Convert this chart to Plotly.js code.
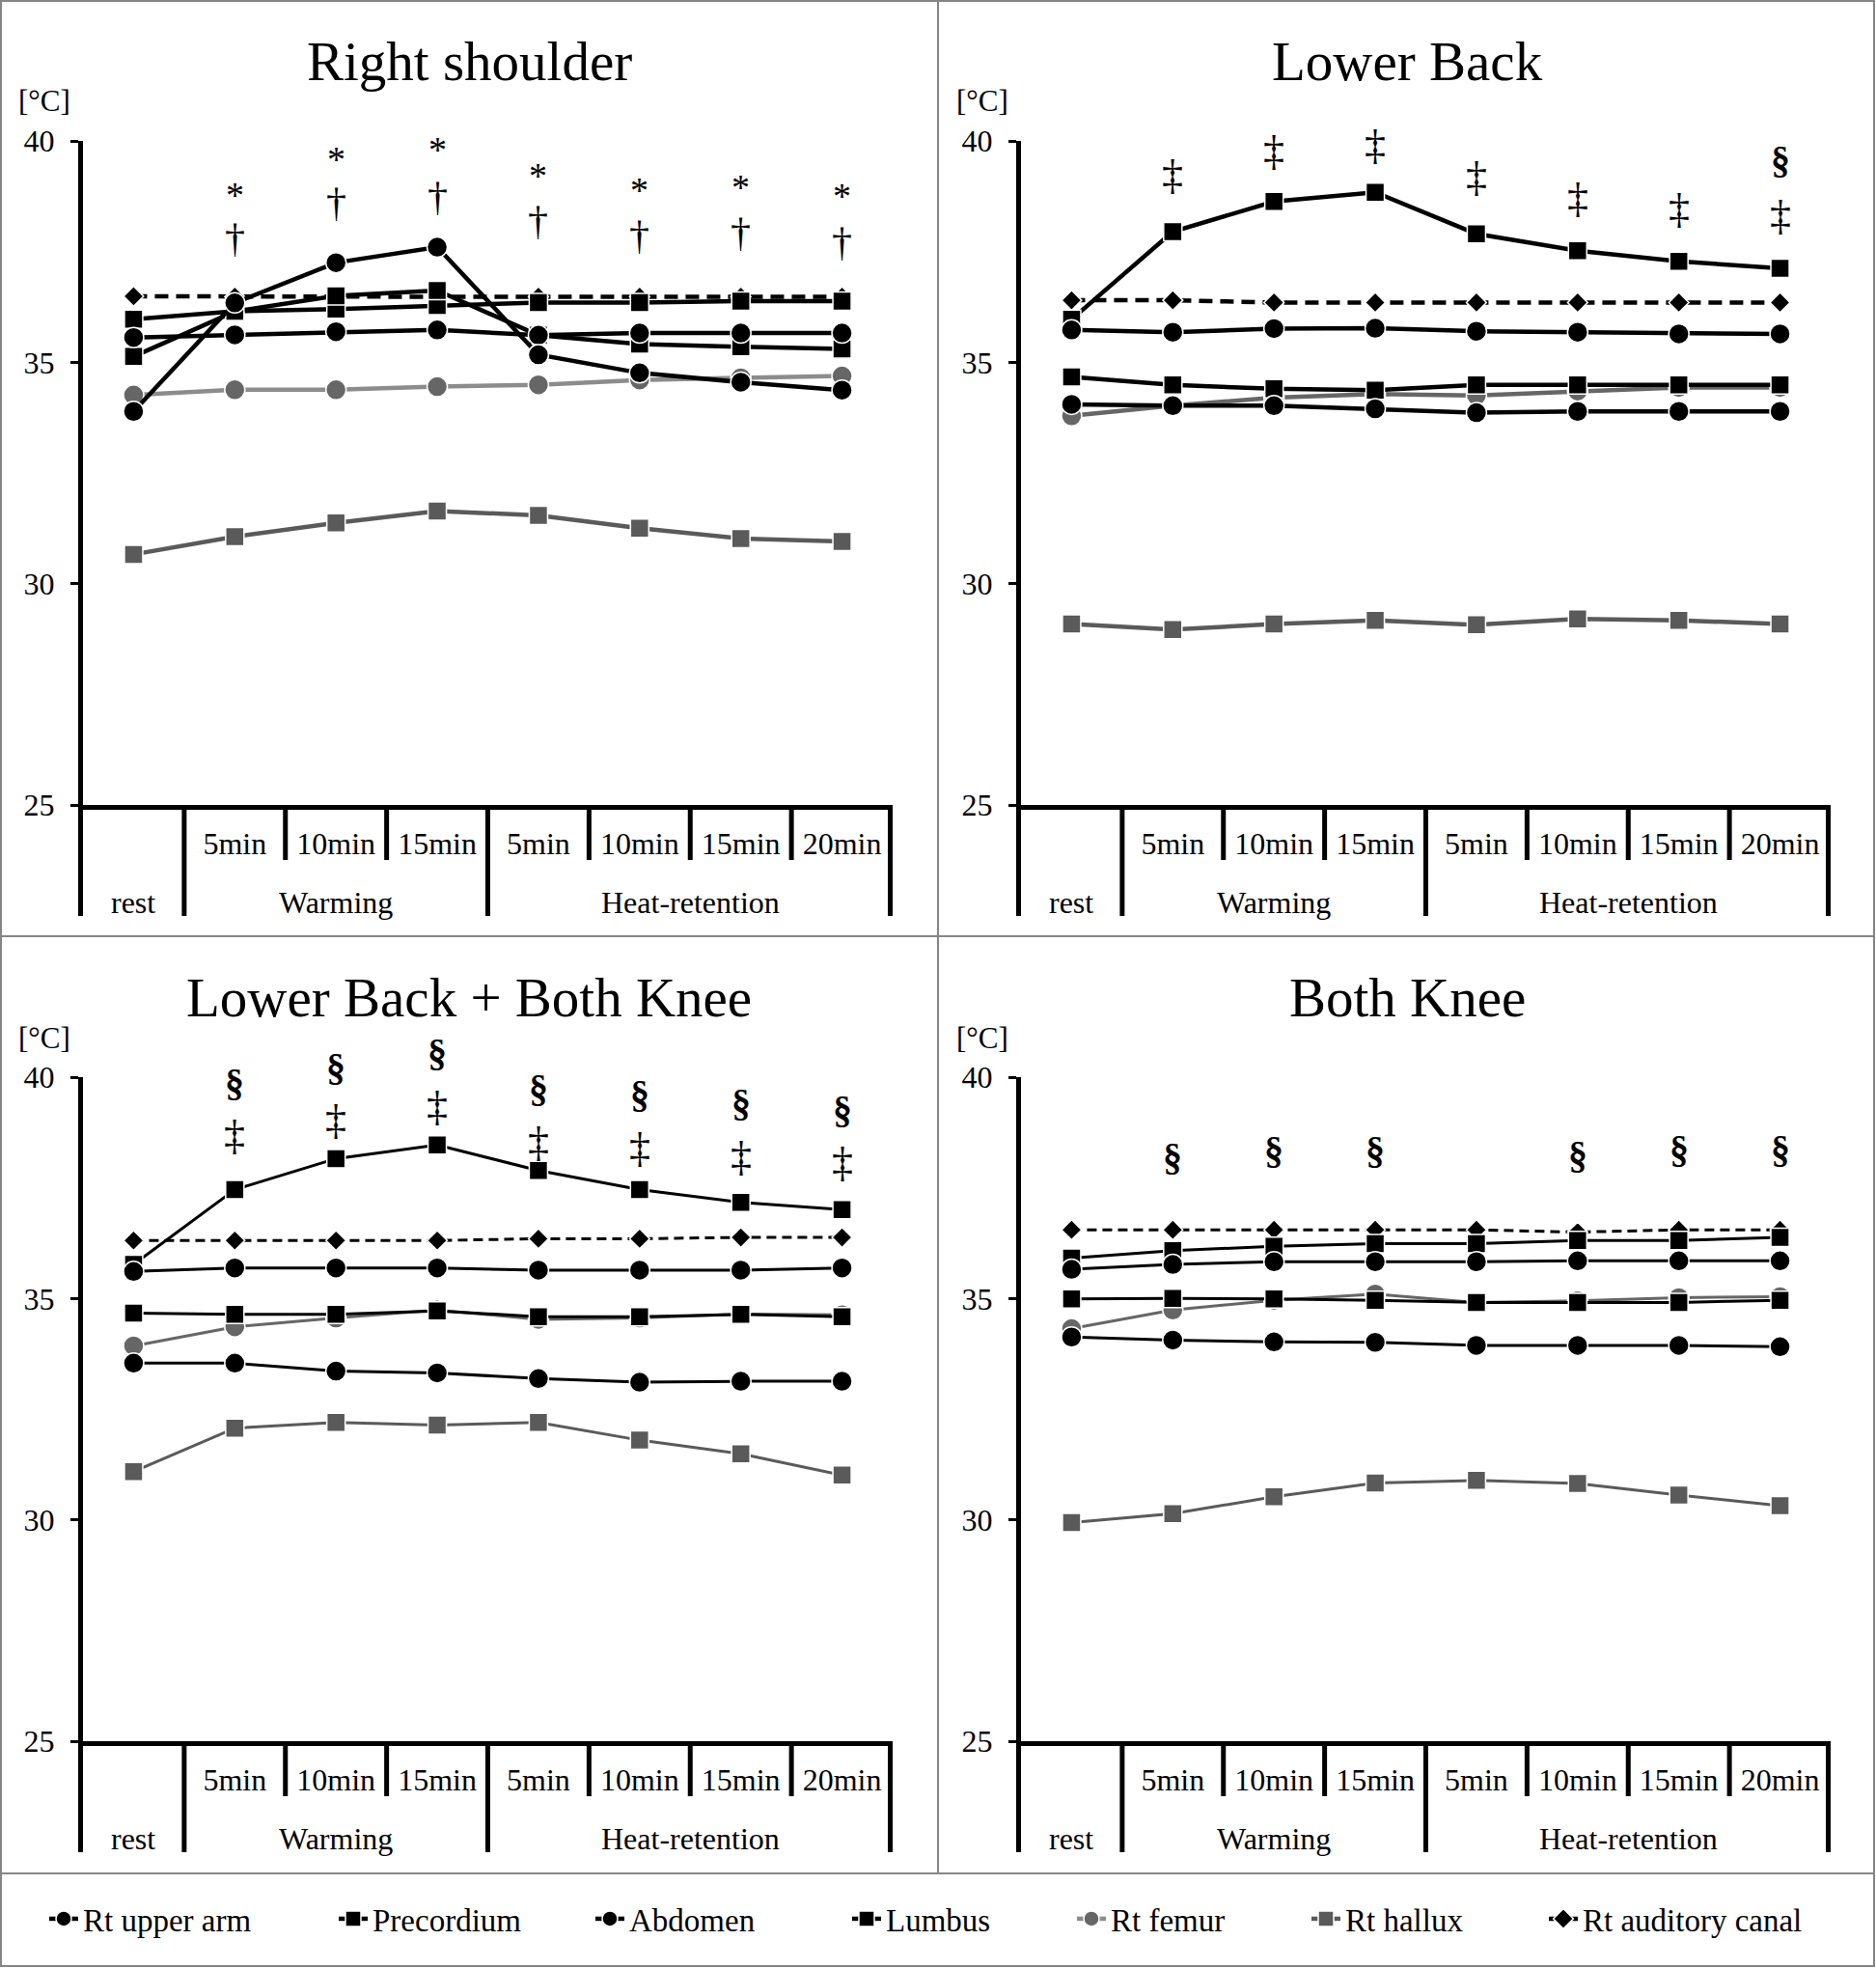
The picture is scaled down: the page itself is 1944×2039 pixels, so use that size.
<!DOCTYPE html>
<html>
<head>
<meta charset="utf-8">
<script src="https://cdn.plot.ly/plotly-3.0.1.min.js"></script>
<style>html,body{margin:0;padding:0;background:#ffffff;}</style>
</head>
<body>
<div id="chart" style="width:1944px;height:2039px;"></div>
<script>
// ---------------- DATA ----------------
const timepoints = ['rest', 'W5', 'W10', 'W15', 'H5', 'H10', 'H15', 'H20'];
const minuteLabels = ['', '5min', '10min', '15min', '5min', '10min', '15min', '20min'];
const phaseLabels = ['rest', 'Warming', 'Heat-retention'];
const phaseMembers = [['rest'], ['W5', 'W10', 'W15'], ['H5', 'H10', 'H15', 'H20']];
const seriesNames = ['Rt upper arm', 'Precordium', 'Abdomen', 'Lumbus', 'Rt femur', 'Rt hallux', 'Rt auditory canal'];
const panelTitles = ['Right shoulder', 'Lower Back', 'Lower Back + Both Knee', 'Both Knee'];
const unitLabel = '[°C]';

// Right shoulder
const shoulderUpperArm  = [33.89, 36.34, 37.25, 37.60, 35.17, 34.76, 34.55, 34.37];
const shoulderPrecordium= [35.13, 36.15, 36.50, 36.62, 35.61, 35.41, 35.35, 35.30];
const shoulderAbdomen   = [35.56, 35.62, 35.69, 35.73, 35.61, 35.66, 35.66, 35.66];
const shoulderLumbus    = [35.97, 36.15, 36.20, 36.28, 36.35, 36.35, 36.38, 36.38];
const shoulderFemur     = [34.26, 34.38, 34.38, 34.45, 34.49, 34.60, 34.65, 34.69];
const shoulderHallux    = [30.66, 31.06, 31.37, 31.64, 31.54, 31.25, 31.02, 30.95];
const shoulderAuditory  = [36.49, 36.48, 36.47, 36.48, 36.48, 36.48, 36.48, 36.48];

// Lower Back
const backUpperArm   = [34.05, 34.02, 34.02, 33.95, 33.86, 33.89, 33.89, 33.89];
const backPrecordium = [34.67, 34.49, 34.40, 34.37, 34.49, 34.49, 34.49, 34.49];
const backAbdomen    = [35.73, 35.68, 35.76, 35.77, 35.70, 35.68, 35.64, 35.64];
const backLumbus     = [35.97, 37.95, 38.63, 38.84, 37.90, 37.52, 37.28, 37.12];
const backFemur      = [33.79, 34.02, 34.20, 34.28, 34.25, 34.35, 34.43, 34.43];
const backHallux     = [29.09, 28.96, 29.09, 29.17, 29.07, 29.20, 29.17, 29.09];
const backAuditory   = [36.40, 36.40, 36.35, 36.35, 36.35, 36.35, 36.35, 36.35];

// Lower Back + Both Knee
const comboUpperArm   = [33.54, 33.54, 33.36, 33.32, 33.19, 33.11, 33.13, 33.13];
const comboPrecordium = [34.67, 34.64, 34.64, 34.72, 34.59, 34.59, 34.64, 34.59];
const comboAbdomen    = [35.61, 35.69, 35.69, 35.69, 35.64, 35.64, 35.64, 35.69];
const comboLumbus     = [35.77, 37.46, 38.16, 38.47, 37.89, 37.46, 37.17, 37.01];
const comboFemur      = [33.93, 34.36, 34.56, 34.74, 34.53, 34.56, 34.65, 34.63];
const comboHallux     = [31.09, 32.07, 32.20, 32.14, 32.20, 31.80, 31.49, 31.01];
const comboAuditory   = [36.31, 36.31, 36.31, 36.31, 36.35, 36.35, 36.38, 36.38];

// Both Knee
const kneeUpperArm   = [34.13, 34.06, 34.02, 34.01, 33.94, 33.94, 33.94, 33.91];
const kneePrecordium = [34.99, 35.00, 34.99, 34.96, 34.91, 34.91, 34.91, 34.96];
const kneeAbdomen    = [35.66, 35.77, 35.83, 35.83, 35.83, 35.85, 35.85, 35.85];
const kneeLumbus     = [35.91, 36.08, 36.18, 36.24, 36.24, 36.31, 36.31, 36.38];
const kneeFemur      = [34.32, 34.74, 34.96, 35.10, 34.91, 34.95, 35.02, 35.04];
const kneeHallux     = [29.94, 30.14, 30.52, 30.83, 30.89, 30.82, 30.56, 30.32];
const kneeAuditory   = [36.55, 36.55, 36.55, 36.55, 36.55, 36.50, 36.55, 36.55];

// Significance marks (label level in °C, null = none)
const shoulderAsterisk = [null, 38.94, 39.74, 39.95, 39.37, 39.03, 39.10, 38.90];
const shoulderDagger   = [null, 37.79, 38.60, 38.73, 38.20, 37.86, 37.93, 37.72];
const backDoubleDagger = [null, 39.23, 39.78, 39.91, 39.18, 38.71, 38.47, 38.30];
const backSection      = [null, null, null, null, null, null, null, 39.57];
const comboSection     = [null, 39.88, 40.22, 40.55, 39.74, 39.61, 39.43, 39.27];
const comboDoubleDagger= [null, 38.69, 39.03, 39.34, 38.53, 38.40, 38.20, 38.06];
const kneeSection      = [null, 38.20, 38.36, 38.36, null, 38.25, 38.38, 38.38];

// ---------------- STYLE / GEOMETRY ----------------
const W = 1944, H = 2039;
const FONT = 'Liberation Serif, Times New Roman, serif';
const fx = v => v / W;
const fy = v => 1 - v / H;
const offsets = [[0, 0], [972, 0], [0, 970], [972, 970]];
const G = {xL: 86, xR: 925, yTop: 146, yBot: 834, shortEnd: 891, longEnd: 949};
const Y_RANGE = [25, 40];

const panelData = [
  [shoulderUpperArm, shoulderPrecordium, shoulderAbdomen, shoulderLumbus, shoulderFemur, shoulderHallux, shoulderAuditory],
  [backUpperArm, backPrecordium, backAbdomen, backLumbus, backFemur, backHallux, backAuditory],
  [comboUpperArm, comboPrecordium, comboAbdomen, comboLumbus, comboFemur, comboHallux, comboAuditory],
  [kneeUpperArm, kneePrecordium, kneeAbdomen, kneeLumbus, kneeFemur, kneeHallux, kneeAuditory]
];
const panelMarks = [
  [['*', shoulderAsterisk], ['†', shoulderDagger]],
  [['‡', backDoubleDagger], ['§', backSection]],
  [['§', comboSection], ['‡', comboDoubleDagger]],
  [['§', kneeSection]]
];
const markFont = {'*': 38, '†': 42, '‡': 44, '§': 40};
const markShift = {'*': -7, '†': 0, '‡': 0, '§': 0};

const markerColor = ['#000000', '#000000', '#000000', '#000000', '#666666', '#5a5a5a', '#000000'];
const symbols = ['circle', 'square', 'circle', 'square', 'circle', 'square', 'diamond'];
const msize = [21, 19, 21, 19, 21, 19, 16];
const panelLineWidth = [4.5, 4.5, 3, 3];
const panelDash = ['14px,8px', '14px,8px', '10px,6px', '10px,6px'];
const femurLine = ['#8c8c8c', '#666666', '#666666', '#666666'];
const drawOrder = [5, 4, 6, 3, 1, 2, 0];
const legendCenters = [57, 357, 623, 889, 1122, 1365, 1611];

// ---------------- BUILD ----------------
const traces = [];
const layout = {
  width: W, height: H, autosize: false,
  margin: {l: 0, r: 0, t: 0, b: 0, pad: 0},
  paper_bgcolor: '#ffffff', plot_bgcolor: 'rgba(0,0,0,0)',
  font: {family: FONT, color: '#000000', size: 32},
  showlegend: true,
  annotations: [], shapes: []
};

for (let p = 0; p < 4; p++) {
  const [ox, oy] = offsets[p];
  const xa = p === 0 ? 'x' : 'x' + (p + 1);
  const ya = p === 0 ? 'y' : 'y' + (p + 1);
  const xkey = p === 0 ? 'xaxis' : 'xaxis' + (p + 1);
  const ykey = p === 0 ? 'yaxis' : 'yaxis' + (p + 1);

  layout[xkey] = {
    domain: [fx(ox + G.xL), fx(ox + G.xR)], anchor: ya,
    type: 'category', categoryorder: 'array', categoryarray: timepoints,
    range: [-0.5, 7.5], showgrid: false, zeroline: false,
    showline: true, linewidth: 5, linecolor: '#000000',
    ticks: '', tickmode: 'array', tickvals: timepoints, ticktext: minuteLabels,
    tickfont: {family: FONT, size: 32, color: '#000000'}, ticklabelstandoff: 8,
    fixedrange: true
  };
  layout[ykey] = {
    domain: [fy(oy + G.yBot), fy(oy + G.yTop)], anchor: xa,
    range: Y_RANGE, tick0: 25, dtick: 5, showgrid: false, zeroline: false,
    showline: true, linewidth: 5, linecolor: '#000000',
    ticks: 'outside', ticklen: 8, tickwidth: 3, tickcolor: '#000000',
    tickfont: {family: FONT, size: 32, color: '#000000'}, ticklabelstandoff: 10,
    fixedrange: true
  };

  for (const s of drawOrder) {
    const isAud = s === 6;
    const lineColor = s === 4 ? femurLine[p] : markerColor[s];
    const legName = s === 0 ? 'legend' : 'legend' + (s + 1);
    traces.push({
      type: 'scatter', mode: 'lines+markers',
      x: timepoints, y: panelData[p][s],
      xaxis: xa, yaxis: ya,
      name: seriesNames[s], legendgroup: seriesNames[s], legend: legName,
      showlegend: p === 0,
      line: {color: lineColor, width: panelLineWidth[p], dash: isAud ? panelDash[p] : 'solid'},
      marker: {symbol: symbols[s], size: msize[s], color: markerColor[s], line: {color: '#ffffff', width: 1.5}},
      cliponaxis: false, hoverinfo: 'skip'
    });
  }

  // Titles and unit
  layout.annotations.push({
    xref: 'paper', yref: 'paper', x: fx(ox + 486), y: fy(oy + 63),
    xanchor: 'center', yanchor: 'middle', showarrow: false,
    text: panelTitles[p], font: {family: FONT, size: 57, color: '#000000'}
  });
  layout.annotations.push({
    xref: 'paper', yref: 'paper', x: fx(ox + 17), y: fy(oy + 105),
    xanchor: 'left', yanchor: 'middle', showarrow: false,
    text: unitLabel, font: {family: FONT, size: 31, color: '#000000'}
  });
  // Phase labels (second row of the category axis)
  phaseLabels.forEach((lab, i) => {
    const idx = phaseMembers[i].map(c => timepoints.indexOf(c));
    const center = idx.reduce((a, b) => a + b, 0) / idx.length;
    layout.annotations.push({
      xref: xa, yref: 'paper', x: center, y: fy(oy + 935),
      xanchor: 'center', yanchor: 'middle', showarrow: false,
      text: lab, font: {family: FONT, size: 32, color: '#000000'}
    });
  });
  // Significance marks (placed on the y axis' domain so marks above 40 still show)
  panelMarks[p].forEach(([sym, arr]) => {
    arr.forEach((v, i) => {
      if (v === null) return;
      layout.annotations.push({
        xref: xa, yref: ya + ' domain', x: timepoints[i],
        y: (v - Y_RANGE[0]) / (Y_RANGE[1] - Y_RANGE[0]),
        xanchor: 'center', yanchor: 'middle', showarrow: false,
        yshift: markShift[sym],
        text: sym === '§' ? '<b>§</b>' : sym,
        font: {family: FONT, size: markFont[sym], color: '#000000'}
      });
    });
  });

  // Category table lines below the axis
  const lineStart = oy + G.yBot + 2.5;
  layout.shapes.push({type: 'line', xref: 'paper', yref: 'paper',
    x0: fx(ox + G.xL - 2.5), x1: fx(ox + G.xL - 2.5), y0: fy(lineStart), y1: fy(oy + G.longEnd),
    line: {color: '#000000', width: 5}});
  const colW = (G.xR - G.xL) / timepoints.length;
  for (let k = 1; k <= timepoints.length; k++) {
    const isLong = (k === 1 || k === 4 || k === 8);
    const xx = ox + G.xL + k * colW - (k === 8 ? 2.5 : 0);
    layout.shapes.push({type: 'line', xref: 'paper', yref: 'paper',
      x0: fx(xx), x1: fx(xx), y0: fy(lineStart), y1: fy(oy + (isLong ? G.longEnd : G.shortEnd)),
      line: {color: '#000000', width: 5}});
  }
}

// Frame and separators
const grey = {color: '#858585', width: 2};
layout.shapes.push({type: 'rect', xref: 'paper', yref: 'paper', x0: fx(1), x1: fx(1942), y0: fy(1), y1: fy(2037), line: grey});
layout.shapes.push({type: 'line', xref: 'paper', yref: 'paper', x0: fx(972), x1: fx(972), y0: fy(1), y1: fy(1941), line: grey});
layout.shapes.push({type: 'line', xref: 'paper', yref: 'paper', x0: fx(1), x1: fx(1942), y0: fy(970), y1: fy(970), line: grey});
layout.shapes.push({type: 'line', xref: 'paper', yref: 'paper', x0: fx(1), x1: fx(1942), y0: fy(1941), y1: fy(1941), line: grey});

// One legend box per series, placed along the bottom band
seriesNames.forEach((n, s) => {
  const key = s === 0 ? 'legend' : 'legend' + (s + 1);
  layout[key] = {
    x: fx(legendCenters[s] - 11), y: fy(1988), xanchor: 'left', yanchor: 'middle',
    orientation: 'h', bgcolor: 'rgba(0,0,0,0)', borderwidth: 0, itemwidth: 30,
    font: {family: FONT, size: 33, color: '#000000'}, itemclick: false, itemdoubleclick: false
  };
});

Plotly.newPlot('chart', traces, layout, {displayModeBar: false, staticPlot: true});
</script>
</body>
</html>
